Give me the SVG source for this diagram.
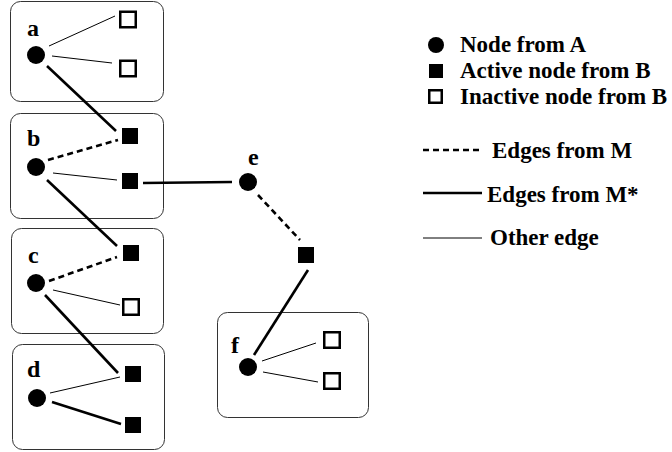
<svg xmlns="http://www.w3.org/2000/svg" width="672" height="452" viewBox="0 0 672 452">
<style>
.box{fill:#fff;stroke:#333;stroke-width:1}
.lbl{font-family:"Liberation Serif","Times New Roman",serif;font-weight:bold;font-size:24px;fill:#000}
.leg{font-family:"Liberation Serif","Times New Roman",serif;font-weight:bold;font-size:23px;fill:#000}
.thin{stroke:#000;stroke-width:1;fill:none}
.thick{stroke:#000;stroke-width:2.6;fill:none}
.dash{stroke:#000;stroke-width:2.6;stroke-dasharray:6 4;fill:none}
.fsq{fill:#000}
.esq{fill:#fff;stroke:#000;stroke-width:2.5}
</style>
<rect width="672" height="452" fill="#fff"/>
<g id="boxes">
<rect class="box" x="10.5" y="1.5" width="153" height="100" rx="10"/>
<rect class="box" x="10.5" y="113.5" width="153" height="105" rx="10"/>
<rect class="box" x="11.5" y="228.5" width="152" height="105" rx="10"/>
<rect class="box" x="12.5" y="344.5" width="152" height="105" rx="10"/>
<rect class="box" x="217.5" y="312.5" width="151" height="105" rx="10"/>
</g>
<g id="connectors">
<line class="thin" x1="49" y1="46" x2="115" y2="16"/>
<line class="thin" x1="52" y1="56" x2="112" y2="63"/>
<line class="thick" x1="47" y1="66" x2="116" y2="131"/>
<line class="dash" x1="48" y1="160" x2="118" y2="140"/>
<line class="thin" x1="53" y1="173" x2="117" y2="180"/>
<line class="thick" x1="143" y1="183" x2="232" y2="182"/>
<line class="thick" x1="47" y1="180" x2="117" y2="246"/>
<line class="dash" x1="49" y1="281" x2="117" y2="257"/>
<line class="thin" x1="53" y1="290" x2="120" y2="305"/>
<line class="thick" x1="45" y1="295" x2="118" y2="373"/>
<line class="thin" x1="50" y1="393" x2="120" y2="377"/>
<line class="thick" x1="52" y1="402" x2="121" y2="424"/>
<line class="dash" x1="258" y1="195" x2="300" y2="240"/>
<line class="thick" x1="308" y1="270" x2="254" y2="355"/>
<line class="thin" x1="262" y1="361" x2="316" y2="343"/>
<line class="thin" x1="263" y1="372" x2="318" y2="382"/>
</g>
<g id="node-a"><circle cx="36" cy="55" r="9"/><text class="lbl" x="27" y="36">a</text></g>
<g id="node-a1"><rect class="esq" x="120.25" y="11.75" width="15.5" height="15.5"/></g>
<g id="node-a2"><rect class="esq" x="120.25" y="60.75" width="15.5" height="15.5"/></g>
<g id="node-b"><circle cx="36" cy="167" r="9"/><text class="lbl" x="27" y="146">b</text></g>
<g id="node-b1"><rect class="fsq" x="122" y="128" width="16" height="16"/></g>
<g id="node-b2"><rect class="fsq" x="122" y="173" width="16" height="16"/></g>
<g id="node-c"><circle cx="36" cy="283" r="9"/><text class="lbl" x="28" y="263">c</text></g>
<g id="node-c1"><rect class="fsq" x="123" y="245" width="16" height="16"/></g>
<g id="node-c2"><rect class="esq" x="123.25" y="299.25" width="15.5" height="15.5"/></g>
<g id="node-d"><circle cx="37" cy="398" r="9"/><text class="lbl" x="27" y="377">d</text></g>
<g id="node-d1"><rect class="fsq" x="125" y="366" width="16" height="16"/></g>
<g id="node-d2"><rect class="fsq" x="125" y="417" width="16" height="16"/></g>
<g id="node-e"><circle cx="248" cy="182" r="9"/><text class="lbl" x="248" y="165">e</text></g>
<g id="node-e1"><rect class="fsq" x="298" y="247" width="16" height="16"/></g>
<g id="node-f"><circle cx="248" cy="367" r="9"/><text class="lbl" x="231" y="353">f</text></g>
<g id="node-f1"><rect class="esq" x="324.25" y="332.25" width="15.5" height="15.5"/></g>
<g id="node-f2"><rect class="esq" x="324.25" y="373.25" width="15.5" height="15.5"/></g>
<g id="legend">
<circle cx="436" cy="45" r="8"/>
<text class="leg" x="460" y="52">Node from A</text>
<rect class="fsq" x="429" y="64" width="14" height="14"/>
<text class="leg" x="460" y="78">Active node from B</text>
<rect class="esq" x="429.25" y="90.25" width="12.5" height="12.5"/>
<text class="leg" x="460" y="104">Inactive node from B</text>
<line class="dash" x1="423" y1="150" x2="482" y2="150"/>
<text class="leg" x="492" y="158">Edges from M</text>
<line class="thick" x1="423" y1="193" x2="482" y2="193"/>
<text class="leg" x="487" y="202">Edges from M*</text>
<line class="thin" x1="423" y1="238" x2="482" y2="238"/>
<text class="leg" x="490" y="245">Other edge</text>
</g>
</svg>
